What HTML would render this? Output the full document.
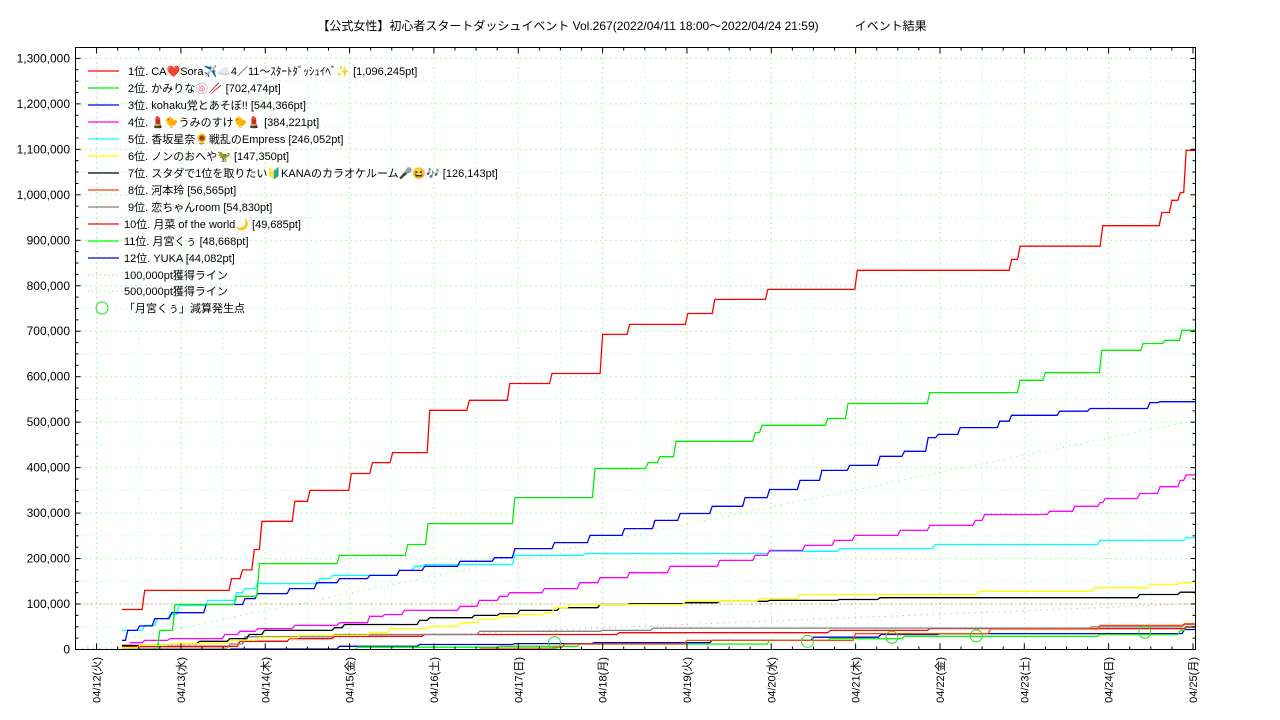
<!DOCTYPE html>
<html><head><meta charset="utf-8"><style>
html,body{margin:0;padding:0;background:#fff}
svg{display:block;font-family:"Liberation Sans","Noto Sans CJK JP",sans-serif}
</style></head><body>
<svg id="chart" width="1280" height="720" viewBox="0 0 1280 720" xmlns="http://www.w3.org/2000/svg">
<text x="622" y="30" font-size="12" text-anchor="middle" fill="#000">【公式女性】初心者スタートダッシュイベント Vol.267(2022/04/11 18:00～2022/04/24 21:59)　　　イベント結果</text>
<g id="grid"></g><g id="refs"></g><g id="series"></g><g id="marks"></g>
<rect x="75.5" y="47.5" width="1120" height="602" fill="none" stroke="#000" stroke-width="1"/>
<g id="axes"></g><g id="legend"></g>
</svg>
<script>
// time = days since 04/12 00:00, values in thousands of pt
const dayLabels = ["04/12(火)","04/13(水)","04/14(木)","04/15(金)","04/16(土)","04/17(日)","04/18(月)","04/19(火)","04/20(水)","04/21(木)","04/22(金)","04/23(土)","04/24(日)","04/25(月)"];
const yTicks = [0,100,200,300,400,500,600,700,800,900,1000,1100,1200,1300];
const seriesNames = ["1位. CA❤️Sora✈️☁️4／11〜ｽﾀｰﾄﾀﾞｯｼｭｲﾍﾞ✨ [1,096,245pt]","2位. かみりな🍥🥢 [702,474pt]","3位. kohaku党とあそぼ!! [544,366pt]","4位. 💄🐤うみのすけ🐤💄 [384,221pt]","5位. 香坂星奈🌻戦乱のEmpress [246,052pt]","6位. ノンのおへや🦖 [147,350pt]","7位. スタダで1位を取りたい🔰KANAのカラオケルーム🎤😆🎶 [126,143pt]","8位. 河本玲 [56,565pt]","9位. 恋ちゃんroom [54,830pt]","10位. 月菜 of the world🌙 [49,685pt]","11位. 月宮くぅ [48,668pt]","12位. YUKA [44,082pt]"];
const seriesColors = ["#ff0000","#00ee00","#0000ff","#ff00ff","#00ffff","#ffff00","#000000","#ff4500","#808080","#ff0000","#00ff00","#0000cd"];
const t1=[0.30,0.57,1.60,1.73,1.87,1.96,2.35,2.53,3.02,3.27,3.51,3.95,4.42,4.90,5.40,6.00,6.32,7.01,7.33,7.96,9.02,10.85,10.95,11.93,12.63,12.75,12.85,12.92];
const v1=[88,130,156,175,220,282,326,350,387,411,433,526,548,585,607,693,715,739,770,792,834,858,887,932,961,988,1005,1098];
const t2=[0.63,0.75,0.93,1.66,1.93,2.88,3.69,3.93,4.96,5.91,6.54,6.68,6.87,7.81,7.89,8.67,8.91,9.88,10.95,11.25,11.92,12.41,12.67,12.87];
const v2=[0,42,99,117,189,207,231,277,334,398,411,424,458,477,493,508,541,565,592,609,658,673,680,702];
const t3=[0.30,0.37,0.51,0.69,0.89,1.30,1.76,1.91,2.29,2.61,2.88,3.24,3.59,3.89,4.31,4.72,4.96,5.43,5.85,6.26,6.62,6.92,7.30,7.69,7.98,8.34,8.60,8.93,9.29,9.58,9.86,9.98,10.24,10.71,10.85,11.42,11.78,12.49,12.61];
const v3=[20,42,52,68,81,99,112,123,134,147,156,163,174,183,194,202,222,235,251,266,284,299,315,334,352,372,394,405,425,436,466,473,488,502,515,524,530,543,545];
const t4=[0.39,0.57,0.87,1.52,1.70,1.91,2.35,2.88,3.24,3.42,3.65,4.31,4.54,4.78,4.90,5.31,5.73,5.97,6.32,6.80,7.39,7.81,7.98,8.40,8.75,8.99,9.53,9.88,10.42,10.53,11.30,11.60,11.90,11.96,12.37,12.61,12.85,12.92];
const v4=[15,20,24,33,40,46,53,59,73,77,86,95,108,117,125,134,147,158,169,183,196,207,218,229,240,251,262,273,284,297,304,315,323,332,343,358,372,384];
const t5=[0.30,0.57,0.72,0.87,0.98,1.32,1.66,1.76,1.91,2.65,2.80,3.59,3.77,3.89,4.96,5.79,7.98,8.81,9.94,11.90,12.92];
const v5=[42,53,68,77,97,108,125,134,145,156,163,174,183,187,207,211,216,222,231,240,246];
const t6=[0.30,0.51,0.87,1.58,1.93,2.41,3.24,3.48,3.95,4.31,4.54,4.78,5.02,5.31,5.43,5.61,6.98,7.86,8.34,10.47,11.83,12.49,12.85];
const v6=[4,9,13,20,26,31,37,46,51,59,66,73,77,81,92,99,106,112,121,128,136,143,147];
const t7=[0.30,0.87,1.22,1.58,1.81,1.99,2.82,2.94,3.83,3.95,4.48,4.78,5.02,5.49,5.97,6.32,6.98,7.39,7.98,8.81,9.29,12.37,12.85];
const v7=[9,13,18,24,33,42,48,55,64,70,75,79,86,92,99,101,103,106,108,110,114,121,126];
const t8=[4.54,5.43,5.55,7.0,9.0,10.6,11.9,12.9];
const v8=[3,5,12,20,35,45,53,56.5];
const t9=[0.30,1.58,1.76,2.82,4.54,6.0,6.6,11.8,12.9];
const v9=[3,12,28,33,40,42,47,50,54.8];
const t10=[0.30,1.70,2.29,2.82,3.89,6.2,8.7,9.88,12.92];
const v10=[7,18,24,29,33,37,42,46,49.7];
const t11=[3.0,3.1,4.78,5.73,7.98,8.7,9.58,11.9,12.85,12.92];
const v11=[0,5,7,12,20,24,29,33,42,48.7];
const t12=[1.58,2.88,3.83,4.96,5.90,7.3,8.5,9.3,10.0,12.9];
const v12=[1,7,11,13,15,20,27,33,35,44];
const seriesT=[t1,t2,t3,t4,t5,t6,t7,t8,t9,t10,t11,t12];
const seriesV=[v1,v2,v3,v4,v5,v6,v7,v8,v9,v10,v11,v12];
const dropT=[5.43,8.43,9.43,10.43,12.43];
const dropV=[15,18,27,30,38];
const refTargets=[100,500];
const tStart=-0.25, tEnd=13.03, tRefEnd=12.92;

const NS="http://www.w3.org/2000/svg";
const X0=75.5,X1=1195.5,Y0=649.5,VTOP=1324;
function xs(t){return X0+(t-tStart)/(tEnd-tStart)*(X1-X0);}
function ys(v){return Y0-v/VTOP*(Y0-47.5);}
function mk(tag,attrs,parent){const e=document.createElementNS(NS,tag);for(const k in attrs)e.setAttribute(k,attrs[k]);parent.appendChild(e);return e;}
const grid=document.getElementById('grid'),axes=document.getElementById('axes'),refs=document.getElementById('refs'),ser=document.getElementById('series'),marks=document.getElementById('marks'),leg=document.getElementById('legend');

for(let v=50;v<VTOP;v+=50){const major=v%100===0;
 const g=mk('line',{x1:X0,x2:X1,y1:ys(v),y2:ys(v),stroke:major?'#66ee66':'#99eeee','stroke-dasharray':'1,4','stroke-width':1},grid);
 
 }
for(let d=-0.5;d<=13;d+=0.5){const major=Number.isInteger(d);if(d<tStart)continue;
 const g=mk('line',{x1:xs(d),x2:xs(d),y1:47.5,y2:Y0,stroke:major?'#66ee66':'#99eeee','stroke-dasharray':'1,4','stroke-width':1},grid);
 
 }
const refCols=['#ff9999','#88ee88'];
refTargets.forEach((r,i)=>{
 const d=mk('line',{x1:xs(tStart),y1:ys(0),x2:xs(tRefEnd),y2:ys(r),stroke:refCols[i],'stroke-dasharray':'1,5','stroke-width':1.2},refs);
 
 
});
const h=mk('line',{x1:X0,x2:X1,y1:ys(100),y2:ys(100),stroke:'#dd8833','stroke-dasharray':'1,3','stroke-width':1},refs);



seriesT.forEach((T,i)=>{
 const V=seriesV[i];let d='M'+xs(T[0]).toFixed(1)+','+ys(V[0]).toFixed(1);
 for(let k=1;k<T.length;k++){d+=' L'+xs(T[k]-0.03).toFixed(1)+','+ys(V[k-1]).toFixed(1)+' L'+xs(T[k]).toFixed(1)+','+ys(V[k]).toFixed(1);}
 d+=' L'+xs(tEnd).toFixed(1)+','+ys(V[V.length-1]).toFixed(1);
 const p=mk('path',{d:d,fill:'none',stroke:seriesColors[i],'stroke-width':1.3},ser);
 
 
});
for(let i=ser.children.length-1;i>=0;i--)ser.appendChild(ser.children[i]);
dropT.forEach((t,i)=>{
 const c=mk('circle',{cx:xs(t),cy:ys(dropV[i]),r:6,fill:'none',stroke:'#22dd22','stroke-width':1},marks);
 
 
});

yTicks.forEach(v=>{
 const y=ys(v);
 const l=mk('text',{x:70,y:y+4,'font-size':12,'text-anchor':'end',fill:'#000'},axes);l.textContent=v===0?'0':(v*1000).toLocaleString('en-US');
 
 
});
for(let v=0;v<VTOP;v+=25){const len=v%100===0?5:3,y=ys(v);
 const a=mk('line',{x1:X0,x2:X0+len,y1:y,y2:y,stroke:'#000'},axes);
 const b=mk('line',{x1:X1,x2:X1-len,y1:y,y2:y,stroke:'#000'},axes);}
for(let d=-0.25;d<=13.01;d+=0.25){const len=Math.abs(d-Math.round(d))<0.01?6:3,x=xs(d);
 const a=mk('line',{x1:x,x2:x,y1:Y0,y2:Y0-len,stroke:'#000'},axes);
 const b=mk('line',{x1:x,x2:x,y1:47.5,y2:47.5+len,stroke:'#000'},axes);}
dayLabels.forEach((s,i)=>{const x=xs(i);
 const t=mk('text',{transform:'translate('+(x+4)+',657) rotate(-90)','font-size':11,'text-anchor':'end',fill:'#000'},axes);t.textContent=s;
 
 });

seriesNames.forEach((s,i)=>{const y=71+i*17;
 const l=mk('line',{x1:88,x2:119,y1:y,y2:y,stroke:seriesColors[i],'stroke-width':1.2},leg);
 
 
 const t=mk('text',{x:i<9?128:124,y:y+4,'font-size':11,fill:'#000'},leg);t.textContent=s;
 
 });
[['100,000pt獲得ライン','#ff9999',275],['500,000pt獲得ライン','#88ee88',291]].forEach(r=>{
 const l=mk('line',{x1:88,x2:119,y1:r[2],y2:r[2],stroke:r[1],'stroke-dasharray':'1,3'},leg);
 
 
 const t=mk('text',{x:124,y:r[2]+4,'font-size':11,fill:'#000'},leg);t.textContent=r[0];
 
 });
const lc=mk('circle',{cx:102,cy:308,r:6,fill:'none',stroke:'#22dd22'},leg);


const lt=mk('text',{x:124,y:312,'font-size':11,fill:'#000'},leg);lt.textContent='「月宮くぅ」減算発生点';


</script>
</body></html>
